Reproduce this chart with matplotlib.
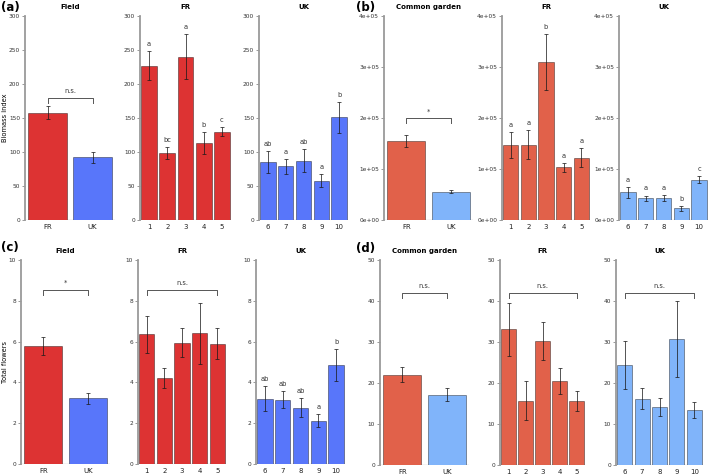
import numpy as np
import matplotlib
matplotlib.use('Agg')
import matplotlib.pyplot as plt

# colours
red_a = '#DD3333'
blue_a = '#5876FA'
red_b = '#E1614A'
blue_b = '#80B4FA'

# (a) biomass index, field
a_field_lab = ['FR', 'UK']
a_field = [158, 92]
a_field_se = [10, 8]
a_fr_lab = ['1', '2', '3', '4', '5']
a_fr = [227, 98, 240, 113, 130]
a_fr_se = [21, 9, 33, 16, 7]
a_fr_let = ['a', 'bc', 'a', 'b', 'c']
a_uk_lab = ['6', '7', '8', '9', '10']
a_uk = [85, 79, 87, 58, 151]
a_uk_se = [16, 11, 17, 9, 23]
a_uk_let = ['ab', 'a', 'ab', 'a', 'b']

# (b) biomass index, common garden
b_cg = [1.55e5, 0.55e5]
b_cg_se = [0.12e5, 0.03e5]
b_fr = [1.47e5, 1.48e5, 3.10e5, 1.03e5, 1.22e5]
b_fr_se = [0.25e5, 0.29e5, 0.55e5, 0.09e5, 0.19e5]
b_fr_let = ['a', 'a', 'b', 'a', 'a']
b_uk = [0.54e5, 0.43e5, 0.43e5, 0.23e5, 0.79e5]
b_uk_se = [0.10e5, 0.05e5, 0.065e5, 0.05e5, 0.07e5]
b_uk_let = ['a', 'a', 'a', 'b', 'c']

# (c) total flowers, field
c_field = [5.8, 3.22]
c_field_se = [0.45, 0.28]
c_fr = [6.36, 4.21, 5.95, 6.4, 5.9]
c_fr_se = [0.9, 0.5, 0.72, 1.5, 0.76]
c_uk = [3.2, 3.16, 2.76, 2.12, 4.86]
c_uk_se = [0.61, 0.42, 0.46, 0.33, 0.77]
c_uk_let = ['ab', 'ab', 'ab', 'a', 'b']

# (d) total flowers, common garden
d_cg = [22.0, 17.1]
d_cg_se = [1.8, 1.6]
d_fr = [33.1, 15.7, 30.3, 20.4, 15.6]
d_fr_se = [6.4, 4.8, 4.7, 3.2, 2.5]
d_uk = [24.4, 16.2, 14.2, 30.7, 13.4]
d_uk_se = [5.8, 2.6, 2.15, 9.2, 1.9]

W, H = 709, 476
fig = plt.figure(figsize=(W / 100.0, H / 100.0), dpi=100)

def make_ax(x0, x1, ytop, ybot):
  return fig.add_axes([x0 / W, 1 - ybot / H, (x1 - x0) / W, (ybot - ytop) / H])

def panel(ax, labels, vals, se, colors, ymax, yticks, yticklabels, title,
          letters=None, bracket=None, bracket_txt=None):
  x = np.arange(len(vals))
  ax.bar(x, vals, 0.86, color=colors, edgecolor=(0, 0, 0, 0.45), linewidth=0.6,
         zorder=2)
  ax.errorbar(x, vals, yerr=se, fmt='none', ecolor=(0.1, 0.1, 0.1, 0.75),
              elinewidth=0.7, capsize=1.6, capthick=0.7, zorder=3)
  ax.set_xlim(-0.5, len(vals) - 0.5)
  ax.set_ylim(0, ymax)
  ax.set_yticks(yticks)
  ax.set_yticklabels(yticklabels)
  ax.set_xticks(x)
  ax.set_xticklabels(labels)
  for s in ['top', 'right', 'bottom']:
    ax.spines[s].set_visible(False)
  ax.spines['left'].set_color('#9a9a9a')
  ax.spines['left'].set_linewidth(1.3)
  ax.axhline(0, color='#c8c8c8', linewidth=1.0, zorder=1)
  ax.tick_params(axis='y', labelsize=4.2, length=2, width=0.6, color='#888888',
                 labelcolor='#333333', pad=1.5)
  ax.tick_params(axis='x', labelsize=5, length=0, labelcolor='#222222', pad=3)
  ax.set_title(title, fontsize=5, fontweight='bold', pad=5)
  if letters:
    for xi, v, e, l in zip(x, vals, se, letters):
      ax.annotate(l, (xi, v + e), xytext=(0, 3), textcoords='offset points',
                  ha='center', va='bottom', fontsize=4.8, color='#333333')
  if bracket is not None:
    i0, i1, yb = bracket
    tip = ymax * 0.025
    ax.plot([x[i0], x[i0], x[i1], x[i1]], [yb - tip, yb, yb, yb - tip],
            color='#555555', linewidth=0.7, zorder=3)
    ax.annotate(bracket_txt, (0.5 * (x[i0] + x[i1]), yb), xytext=(0, 2.5),
                textcoords='offset points', ha='center', va='bottom',
                fontsize=4.8, color='#333333')

# row 1
t_a = [0, 50, 100, 150, 200, 250, 300]
t_b = [0, 1e5, 2e5, 3e5, 4e5]
tl_b = ['0e+00', '1e+05', '2e+05', '3e+05', '4e+05']
ax = make_ax(25, 115, 16, 220)
panel(ax, a_field_lab, a_field, a_field_se, [red_a, blue_a], 300, t_a, t_a,
      'Field', bracket=(0, 1, 180), bracket_txt='n.s.')
ax.set_ylabel('Biomass index', fontsize=4.8)
ax.yaxis.set_label_coords(-0.19, 0.5)
ax = make_ax(140, 231, 16, 220)
panel(ax, a_fr_lab, a_fr, a_fr_se, red_a, 300, t_a, t_a, 'FR', letters=a_fr_let)
ax = make_ax(259, 348, 16, 220)
panel(ax, a_uk_lab, a_uk, a_uk_se, blue_a, 300, t_a, t_a, 'UK', letters=a_uk_let)

ax = make_ax(384, 473, 16, 220)
panel(ax, a_field_lab, b_cg, b_cg_se, [red_b, blue_b], 4e5, t_b, tl_b,
      'Common garden', bracket=(0, 1, 2e5), bracket_txt='*')
ax = make_ax(502, 590, 16, 220)
panel(ax, a_fr_lab, b_fr, b_fr_se, red_b, 4e5, t_b, tl_b, 'FR', letters=b_fr_let)
ax = make_ax(619, 708, 16, 220)
panel(ax, a_uk_lab, b_uk, b_uk_se, blue_b, 4e5, t_b, tl_b, 'UK', letters=b_uk_let)

# row 2
t_c = [0, 2, 4, 6, 8, 10]
t_d = [0, 10, 20, 30, 40, 50]
ax = make_ax(21, 110, 260, 464)
panel(ax, a_field_lab, c_field, c_field_se, [red_a, blue_a], 10, t_c, t_c,
      'Field', bracket=(0, 1, 8.55), bracket_txt='*')
ax.set_ylabel('Total flowers', fontsize=4.8)
ax.yaxis.set_label_coords(-0.15, 0.5)
ax = make_ax(138, 226, 260, 464)
panel(ax, a_fr_lab, c_fr, c_fr_se, red_a, 10, t_c, t_c, 'FR',
      bracket=(0, 4, 8.55), bracket_txt='n.s.')
ax = make_ax(256, 345, 260, 464)
panel(ax, a_uk_lab, c_uk, c_uk_se, blue_a, 10, t_c, t_c, 'UK', letters=c_uk_let)

ax = make_ax(380, 469, 260, 465)
panel(ax, a_field_lab, d_cg, d_cg_se, [red_b, blue_b], 50, t_d, t_d,
      'Common garden', bracket=(0, 1, 42), bracket_txt='n.s.')
ax = make_ax(500, 585, 260, 465)
panel(ax, a_fr_lab, d_fr, d_fr_se, red_b, 50, t_d, t_d, 'FR',
      bracket=(0, 4, 42), bracket_txt='n.s.')
ax = make_ax(616, 703, 260, 465)
panel(ax, a_uk_lab, d_uk, d_uk_se, blue_b, 50, t_d, t_d, 'UK',
      bracket=(0, 4, 42), bracket_txt='n.s.')

# panel letters
for lab, px, py in [('(a)', 1, 8), ('(b)', 356, 8), ('(c)', 1, 247), ('(d)', 356, 248)]:
  fig.text(px / W, 1 - py / H, lab, fontsize=8.5, fontweight='bold',
           ha='left', va='center')

plt.savefig('out.png', dpi=100)
print('Saved to out.png')
